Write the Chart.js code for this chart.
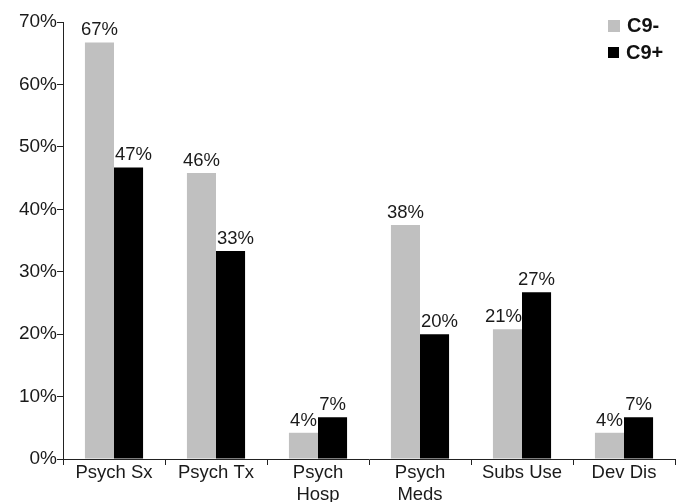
<!DOCTYPE html>
<html>
<head>
<meta charset="utf-8">
<script src="https://cdn.jsdelivr.net/npm/chart.js@4.4.0/dist/chart.umd.min.js"></script>
<style>
  body { margin:0; background:#fff; }
  #wrap { position:relative; width:683px; height:502px; }
  .leg { position:absolute; left:608px; font:bold 20px "Liberation Sans", Arial, sans-serif; color:#111; display:flex; align-items:center; }
  .leg i { display:inline-block; margin-right:7px; }
</style>
</head>
<body>
<div id="wrap">
  <canvas id="chart" width="683" height="502"></canvas>
  <div class="leg" style="top:14px"><i style="width:12px;height:12px;background:#c0c0c0"></i>C9-</div>
  <div class="leg" style="top:41px"><i style="width:11px;height:11px;background:#000"></i>C9+</div>
</div>
<script>
const categories = [['Psych Sx'], ['Psych Tx'], ['Psych', 'Hosp'], ['Psych', 'Meds'], ['Subs Use'], ['Dev Dis']];
const seriesNames = ['C9-', 'C9+'];
const c9neg = [66.7, 45.8, 4.2, 37.5, 20.8, 4.2];
const c9pos = [46.7, 33.3, 6.7, 20.0, 26.7, 6.7];
const yTicks = [0, 10, 20, 30, 40, 50, 60, 70];

const FONT = '"Liberation Sans", Arial, sans-serif';
const TXT = '#1a1a1a';

// value labels above bars, nudged away from a taller neighbour bar
const barLabels = {
  id: 'barLabels',
  afterDatasetsDraw(chart){
    const ctx = chart.ctx;
    ctx.save();
    ctx.font = '18.5px ' + FONT;
    ctx.fillStyle = TXT;
    ctx.textAlign = 'center';
    ctx.textBaseline = 'bottom';
    chart.data.datasets.forEach((ds, di) => {
      const meta = chart.getDatasetMeta(di);
      const other = chart.data.datasets[1 - di].data;
      meta.data.forEach((bar, i) => {
        const v = ds.data[i];
        let dx = 0;
        if (other[i] > v && other[i] - v > 3) dx = di === 0 ? -4 : 5;
        ctx.fillText(Math.round(v) + '%', bar.x + dx, bar.y - 3);
      });
    });
    ctx.restore();
  }
};

new Chart(document.getElementById('chart'), {
  type: 'bar',
  data: {
    labels: categories,
    datasets: [
      { label: seriesNames[0], data: c9neg, backgroundColor: '#c0c0c0' },
      { label: seriesNames[1], data: c9pos, backgroundColor: '#000000' }
    ]
  },
  options: {
    responsive: false,
    animation: false,
    layout: { padding: { top: 22, right: 8, left: 0, bottom: 0 } },
    plugins: { legend: { display: false }, tooltip: { enabled: false } },
    datasets: { bar: { categoryPercentage: 0.57, barPercentage: 1.0 } },
    scales: {
      x: {
        grid: { drawOnChartArea: false, offset: true, tickLength: 6, color: '#222' },
        border: { color: '#222', width: 1 },
        ticks: { font: { family: FONT, size: 18.5, lineHeight: 1.18 }, color: TXT, padding: -3, maxRotation: 0, autoSkip: false },
        afterFit(s){ s.height = 43; }
      },
      y: {
        min: 0, max: 70,
        afterBuildTicks(s){ s.ticks = yTicks.map(v => ({ value: v })); },
        grid: { drawOnChartArea: false, tickLength: 6, color: '#222' },
        border: { color: '#222', width: 1 },
        ticks: { font: { family: FONT, size: 19 }, color: TXT, padding: 0, callback: v => v + '%' },
        afterFit(s){ s.width = 63; }
      }
    }
  },
  plugins: [barLabels]
});
</script>
</body>
</html>
